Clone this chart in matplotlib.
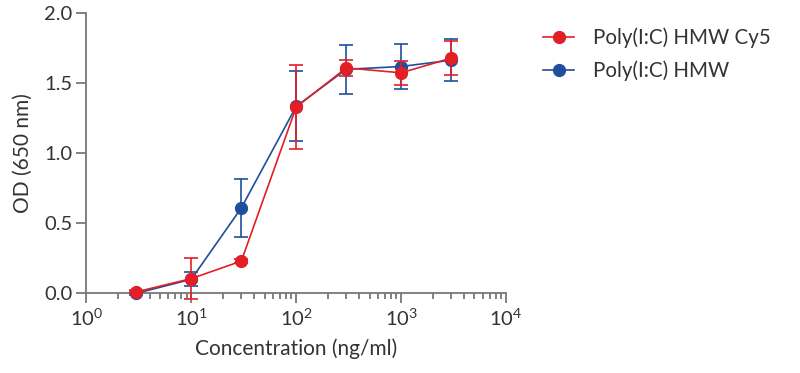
import numpy as np
import matplotlib
matplotlib.use("Agg")
import matplotlib.pyplot as plt
from matplotlib.lines import Line2D
from matplotlib.ticker import LogLocator, NullFormatter, FixedLocator

plt.rcParams['font.family'] = ['Lato', 'DejaVu Sans']
plt.rcParams['mathtext.fontset'] = 'custom'
plt.rcParams['mathtext.rm'] = 'Lato'
plt.rcParams['mathtext.it'] = 'Lato'
plt.rcParams['mathtext.bf'] = 'Lato'

# concentrations (ng/ml)
conc = [3, 10, 30, 100, 300, 1000, 3000]

# Poly(I:C) HMW Cy5
cy5_mean = [0.01, 0.105, 0.23, 1.33, 1.61, 1.575, 1.68]
cy5_err = [0.01, 0.145, 0.015, 0.30, 0.06, 0.085, 0.12]

# Poly(I:C) HMW
hmw_mean = [0.0, 0.10, 0.61, 1.335, 1.60, 1.62, 1.665]
hmw_err = [0.01, 0.05, 0.21, 0.25, 0.175, 0.16, 0.15]

red = '#E31E24'
blue = '#1F4E9C'
grey = '#777777'
txt = '#333333'

fig = plt.figure(figsize=(8, 3.73), dpi=100)
ax = fig.add_axes([0.108, 0.2137, 0.5245, 0.7506])

ax.errorbar(conc, hmw_mean, yerr=hmw_err, color=blue, marker='o', markersize=8.5,
            linewidth=1.2, capsize=5, capthick=1.2, elinewidth=1.2,
            clip_on=False, zorder=3)
ax.errorbar(conc, cy5_mean, yerr=cy5_err, color=red, marker='o', markersize=8.5,
            linewidth=1.2, capsize=5, capthick=1.2, elinewidth=1.2,
            clip_on=False, zorder=4)

ax.set_xscale('log')
ax.set_xlim(1, 1e4)
ax.set_ylim(0, 2.0)
ax.set_yticks([0, 0.5, 1.0, 1.5, 2.0])
ax.set_yticklabels(['0.0', '0.5', '1.0', '1.5', '2.0'])
ax.xaxis.set_major_locator(FixedLocator([1, 10, 100, 1000, 10000]))
ax.set_xticklabels(['$10^{0}$', '$10^{1}$', '$10^{2}$', '$10^{3}$', '$10^{4}$'])
ax.xaxis.set_minor_locator(LogLocator(base=10, subs=np.arange(2, 10)))
ax.xaxis.set_minor_formatter(NullFormatter())

for side in ['top', 'right']:
    ax.spines[side].set_visible(False)
for side in ['left', 'bottom']:
    ax.spines[side].set_color(grey)
    ax.spines[side].set_linewidth(1.3)

ax.tick_params(axis='both', which='major', direction='out', length=7, width=1.3,
               color=grey, labelsize=14.5, labelcolor=txt, pad=3)
ax.tick_params(axis='x', which='minor', direction='out', length=4, width=1.3, color=grey)

ax.set_xlabel('Concentration (ng/ml)', fontsize=15, color=txt, labelpad=7)
ax.set_ylabel('OD (650 nm)', fontsize=15, color=txt, labelpad=8)

handles = [
    Line2D([], [], color=red, marker='o', markersize=8.5, linewidth=1.2),
    Line2D([], [], color=blue, marker='o', markersize=8.5, linewidth=1.2),
]
labels = ['Poly(I:C) HMW Cy5', 'Poly(I:C) HMW']
leg = ax.legend(handles, labels, loc='upper left', bbox_to_anchor=(1.045, 1.015),
                frameon=False, fontsize=14.8, handlelength=1.5, labelspacing=0.6,
                handletextpad=0.9)
for t in leg.get_texts():
    t.set_color(txt)

fig.savefig('out.png', dpi=100)
